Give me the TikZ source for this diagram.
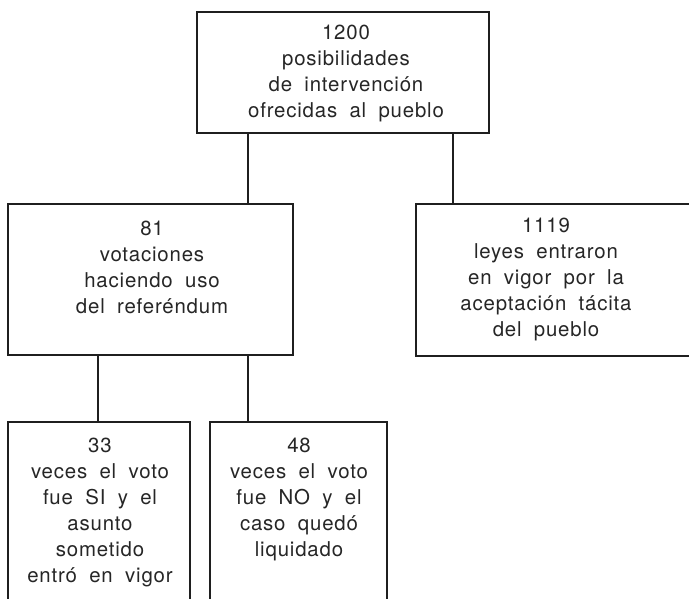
\documentclass[tikz,border=0pt]{standalone}
\usepackage{fontspec}
\setmainfont[LetterSpace=4,WordSpace=1.9]{TeX Gyre Heros}
\begin{document}
\begin{tikzpicture}[x=1pt,y=-1pt,
  boxstyle/.style={draw=black!88, line width=2.2pt, rectangle, inner sep=0pt, outer sep=0pt},
  txt/.style={align=center, inner sep=0pt, anchor=north, text=black!85,
    font=\fontsize{20.4}{26}\selectfont},
  link/.style={draw=black!88, line width=2.2pt}]
\useasboundingbox (0,0) rectangle (689,598);
\clip (0,0) rectangle (689,598);
\fill[white] (0,0) rectangle (689,598);
% boxes
\node[boxstyle, minimum width=292pt, minimum height=121pt] (top) at (343,72.5) {};
\node[boxstyle, minimum width=285pt, minimum height=151pt] (ml) at (150.5,279.5) {};
\node[boxstyle, minimum width=304pt, minimum height=152pt] (rt) at (568,280) {};
\node[boxstyle, minimum width=182pt, minimum height=218pt] (bl) at (99,531) {};
\node[boxstyle, minimum width=177pt, minimum height=218pt] (br) at (298.5,531) {};
% texts
\node[txt] (toptxt) at (346,25) {1200\\posibilidades\\de intervención\\ofrecidas al pueblo};
\node[txt] (mltxt) at (152,221) {81\\votaciones\\haciendo uso\\del referéndum};
\node[txt] (rttxt) at (546,218) {1119\\leyes entraron\\en vigor por la\\aceptación tácita\\del pueblo};
\node[txt] (bltxt) at (100,438) {33\\veces el voto\\fue SI y el\\asunto\\sometido\\entró en vigor};
\node[txt] (brtxt) at (299,438) {48\\veces el voto\\fue NO y el\\caso quedó\\liquidado};
% connector columns
\coordinate (ca) at (248,0);
\coordinate (cb) at (453,0);
\coordinate (cc) at (98,0);
\draw[link] (top.south -| ca) -- (ml.north -| ca);
\draw[link] (top.south -| cb) -- (rt.north -| cb);
\draw[link] (ml.south -| cc) -- (bl.north -| cc);
\draw[link] (ml.south -| ca) -- (br.north -| ca);
\end{tikzpicture}
\end{document}
